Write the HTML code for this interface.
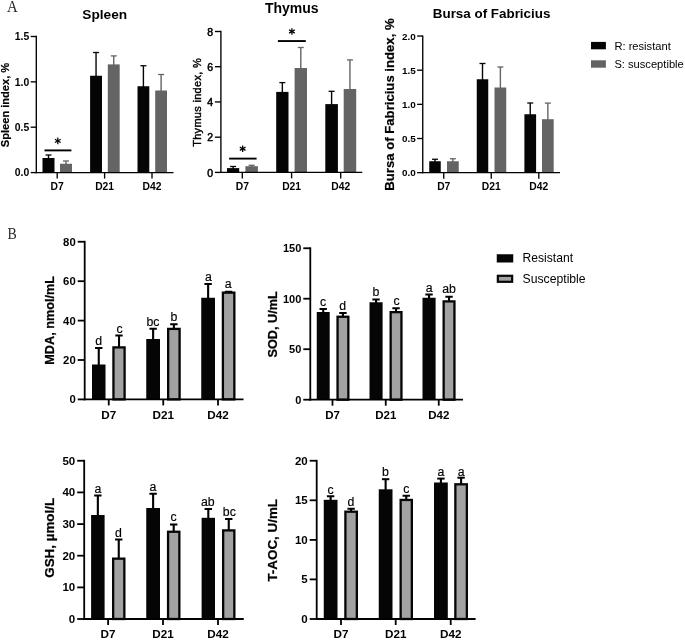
<!DOCTYPE html>
<html><head><meta charset="utf-8"><title>Figure</title>
<style>
html,body{margin:0;padding:0;background:#fff;}
body{width:685px;height:641px;overflow:hidden;font-family:"Liberation Sans",sans-serif;}
svg{display:block;will-change:transform;opacity:0.9999;}
</style></head><body>
<svg width="685" height="641" viewBox="0 0 685 641">
<rect width="685" height="641" fill="#fff"/>
<text transform="translate(7.0 11.8) scale(0.86 1)" font-family='"Liberation Serif", serif' font-size="17.3" fill="#2a2a2a">A</text>
<text transform="translate(7.4 239) scale(0.83 1)" font-family='"Liberation Serif", serif' font-size="16.8" fill="#2a2a2a">B</text>
<line x1="48.5" y1="155" x2="48.5" y2="159" stroke="#050505" stroke-width="1.4"/>
<line x1="45.5" y1="155" x2="51.5" y2="155" stroke="#050505" stroke-width="1.3"/>
<rect x="42.50" y="158.00" width="12.00" height="14.60" fill="#050505"/>
<line x1="66.0" y1="161" x2="66.0" y2="164.75" stroke="#646464" stroke-width="1.4"/>
<line x1="63.0" y1="161" x2="69.0" y2="161" stroke="#646464" stroke-width="1.3"/>
<rect x="60.00" y="163.75" width="12.00" height="8.85" fill="#646464"/>
<line x1="96.05" y1="52.5" x2="96.05" y2="76.75" stroke="#050505" stroke-width="1.4"/>
<line x1="93.05" y1="52.5" x2="99.05" y2="52.5" stroke="#050505" stroke-width="1.3"/>
<rect x="90.10" y="75.75" width="11.90" height="96.85" fill="#050505"/>
<line x1="113.75" y1="55.9" x2="113.75" y2="65.4" stroke="#646464" stroke-width="1.4"/>
<line x1="110.75" y1="55.9" x2="116.75" y2="55.9" stroke="#646464" stroke-width="1.3"/>
<rect x="107.80" y="64.40" width="11.90" height="108.20" fill="#646464"/>
<line x1="143.4" y1="65.75" x2="143.4" y2="87.25" stroke="#050505" stroke-width="1.4"/>
<line x1="140.4" y1="65.75" x2="146.4" y2="65.75" stroke="#050505" stroke-width="1.3"/>
<rect x="137.50" y="86.25" width="11.80" height="86.35" fill="#050505"/>
<line x1="161.1" y1="74.5" x2="161.1" y2="91.5" stroke="#646464" stroke-width="1.4"/>
<line x1="158.1" y1="74.5" x2="164.1" y2="74.5" stroke="#646464" stroke-width="1.3"/>
<rect x="155.20" y="90.50" width="11.80" height="82.10" fill="#646464"/>
<line x1="36.3" y1="35.825" x2="36.3" y2="173.275" stroke="#000" stroke-width="1.35"/>
<line x1="35.625" y1="172.6" x2="173.5" y2="172.6" stroke="#000" stroke-width="1.35"/>
<line x1="30.699999999999996" y1="36.5" x2="36.3" y2="36.5" stroke="#000" stroke-width="1.35"/>
<text x="29.299999999999997" y="40.2" font-family='"Liberation Sans", sans-serif' font-size="10.4" font-weight="bold" text-anchor="end" fill="#000">1.5</text>
<line x1="30.699999999999996" y1="81.85" x2="36.3" y2="81.85" stroke="#000" stroke-width="1.35"/>
<text x="29.299999999999997" y="85.55" font-family='"Liberation Sans", sans-serif' font-size="10.4" font-weight="bold" text-anchor="end" fill="#000">1.0</text>
<line x1="30.699999999999996" y1="127.2" x2="36.3" y2="127.2" stroke="#000" stroke-width="1.35"/>
<text x="29.299999999999997" y="130.9" font-family='"Liberation Sans", sans-serif' font-size="10.4" font-weight="bold" text-anchor="end" fill="#000">0.5</text>
<line x1="30.699999999999996" y1="172.6" x2="36.3" y2="172.6" stroke="#000" stroke-width="1.35"/>
<text x="29.299999999999997" y="176.29999999999998" font-family='"Liberation Sans", sans-serif' font-size="10.4" font-weight="bold" text-anchor="end" fill="#000">0.0</text>
<line x1="57.2" y1="172.6" x2="57.2" y2="178.6" stroke="#000" stroke-width="1.35"/>
<text x="57.2" y="190.2" font-family='"Liberation Sans", sans-serif' font-size="10.3" font-weight="bold" text-anchor="middle" fill="#000">D7</text>
<line x1="104.6" y1="172.6" x2="104.6" y2="178.6" stroke="#000" stroke-width="1.35"/>
<text x="104.6" y="190.2" font-family='"Liberation Sans", sans-serif' font-size="10.3" font-weight="bold" text-anchor="middle" fill="#000">D21</text>
<line x1="152" y1="172.6" x2="152" y2="178.6" stroke="#000" stroke-width="1.35"/>
<text x="152" y="190.2" font-family='"Liberation Sans", sans-serif' font-size="10.3" font-weight="bold" text-anchor="middle" fill="#000">D42</text>
<text x="104.75" y="19" font-family='"Liberation Sans", sans-serif' font-size="13.7" font-weight="bold" text-anchor="middle" fill="#000">Spleen</text>
<text x="8.8" y="105" font-family='"Liberation Sans", sans-serif' font-size="11.1" font-weight="bold" text-anchor="middle" fill="#000" transform="rotate(-90 8.8 105)" stroke="#000" stroke-width="0.2">Spleen index, %</text>
<line x1="44.5" y1="150.4" x2="71.4" y2="150.4" stroke="#000" stroke-width="1.9"/>
<g stroke="#000" stroke-width="1.25" stroke-linecap="butt"><line x1="57.8" y1="137.6" x2="57.8" y2="144.20000000000002"/><line x1="54.94" y1="139.25" x2="60.66" y2="142.55"/><line x1="54.94" y1="142.55" x2="60.66" y2="139.25"/></g>
<line x1="233.1" y1="166.5" x2="233.1" y2="169.1" stroke="#050505" stroke-width="1.4"/>
<line x1="230.1" y1="166.5" x2="236.1" y2="166.5" stroke="#050505" stroke-width="1.3"/>
<rect x="227.00" y="168.10" width="12.20" height="4.30" fill="#050505"/>
<line x1="251.64999999999998" y1="165.3" x2="251.64999999999998" y2="167.2" stroke="#646464" stroke-width="1.4"/>
<line x1="248.64999999999998" y1="165.3" x2="254.64999999999998" y2="165.3" stroke="#646464" stroke-width="1.3"/>
<rect x="245.40" y="166.20" width="12.50" height="6.20" fill="#646464"/>
<line x1="282.35" y1="82.6" x2="282.35" y2="92.9" stroke="#050505" stroke-width="1.4"/>
<line x1="279.35" y1="82.6" x2="285.35" y2="82.6" stroke="#050505" stroke-width="1.3"/>
<rect x="276.20" y="91.90" width="12.30" height="80.50" fill="#050505"/>
<line x1="300.8" y1="47.5" x2="300.8" y2="69.0" stroke="#646464" stroke-width="1.4"/>
<line x1="297.8" y1="47.5" x2="303.8" y2="47.5" stroke="#646464" stroke-width="1.3"/>
<rect x="294.60" y="68.00" width="12.40" height="104.40" fill="#646464"/>
<line x1="331.6" y1="91.3" x2="331.6" y2="105.1" stroke="#050505" stroke-width="1.4"/>
<line x1="328.6" y1="91.3" x2="334.6" y2="91.3" stroke="#050505" stroke-width="1.3"/>
<rect x="325.30" y="104.10" width="12.60" height="68.30" fill="#050505"/>
<line x1="349.95" y1="59.9" x2="349.95" y2="90.0" stroke="#646464" stroke-width="1.4"/>
<line x1="346.95" y1="59.9" x2="352.95" y2="59.9" stroke="#646464" stroke-width="1.3"/>
<rect x="343.70" y="89.00" width="12.50" height="83.40" fill="#646464"/>
<line x1="220.9" y1="30.825" x2="220.9" y2="173.07500000000002" stroke="#000" stroke-width="1.35"/>
<line x1="220.225" y1="172.4" x2="362.3" y2="172.4" stroke="#000" stroke-width="1.35"/>
<line x1="214.9" y1="31.5" x2="220.9" y2="31.5" stroke="#000" stroke-width="1.35"/>
<text x="213.2" y="35.6" font-family='"Liberation Sans", sans-serif' font-size="10.5" font-weight="normal" text-anchor="end" fill="#000" stroke="#000" stroke-width="0.5">8</text>
<line x1="214.9" y1="66.7" x2="220.9" y2="66.7" stroke="#000" stroke-width="1.35"/>
<text x="213.2" y="70.80000000000001" font-family='"Liberation Sans", sans-serif' font-size="10.5" font-weight="normal" text-anchor="end" fill="#000" stroke="#000" stroke-width="0.5">6</text>
<line x1="214.9" y1="101.95" x2="220.9" y2="101.95" stroke="#000" stroke-width="1.35"/>
<text x="213.2" y="106.05000000000001" font-family='"Liberation Sans", sans-serif' font-size="10.5" font-weight="normal" text-anchor="end" fill="#000" stroke="#000" stroke-width="0.5">4</text>
<line x1="214.9" y1="137.2" x2="220.9" y2="137.2" stroke="#000" stroke-width="1.35"/>
<text x="213.2" y="141.29999999999998" font-family='"Liberation Sans", sans-serif' font-size="10.5" font-weight="normal" text-anchor="end" fill="#000" stroke="#000" stroke-width="0.5">2</text>
<line x1="214.9" y1="172.4" x2="220.9" y2="172.4" stroke="#000" stroke-width="1.35"/>
<text x="213.2" y="176.5" font-family='"Liberation Sans", sans-serif' font-size="10.5" font-weight="normal" text-anchor="end" fill="#000" stroke="#000" stroke-width="0.5">0</text>
<line x1="242.3" y1="172.4" x2="242.3" y2="178.4" stroke="#000" stroke-width="1.35"/>
<text x="242.3" y="190.2" font-family='"Liberation Sans", sans-serif' font-size="10.3" font-weight="bold" text-anchor="middle" fill="#000">D7</text>
<line x1="291.6" y1="172.4" x2="291.6" y2="178.4" stroke="#000" stroke-width="1.35"/>
<text x="291.6" y="190.2" font-family='"Liberation Sans", sans-serif' font-size="10.3" font-weight="bold" text-anchor="middle" fill="#000">D21</text>
<line x1="340.7" y1="172.4" x2="340.7" y2="178.4" stroke="#000" stroke-width="1.35"/>
<text x="340.7" y="190.2" font-family='"Liberation Sans", sans-serif' font-size="10.3" font-weight="bold" text-anchor="middle" fill="#000">D42</text>
<text x="291.8" y="13.3" font-family='"Liberation Sans", sans-serif' font-size="14" font-weight="bold" text-anchor="middle" fill="#000">Thymus</text>
<text x="200.9" y="102.4" font-family='"Liberation Sans", sans-serif' font-size="11" font-weight="normal" text-anchor="middle" fill="#000" transform="rotate(-90 200.9 102.4)" stroke="#000" stroke-width="0.4" letter-spacing="0.3">Thymus index, %</text>
<line x1="229.1" y1="158.6" x2="256.6" y2="158.6" stroke="#000" stroke-width="1.9"/>
<g stroke="#000" stroke-width="1.25" stroke-linecap="butt"><line x1="242.65" y1="145.45" x2="242.65" y2="152.05"/><line x1="239.79" y1="147.10" x2="245.51" y2="150.40"/><line x1="239.79" y1="150.40" x2="245.51" y2="147.10"/></g>
<line x1="277.9" y1="41.05" x2="305.8" y2="41.05" stroke="#000" stroke-width="1.9"/>
<g stroke="#000" stroke-width="1.25" stroke-linecap="butt"><line x1="291.9" y1="28.2" x2="291.9" y2="34.8"/><line x1="289.04" y1="29.85" x2="294.76" y2="33.15"/><line x1="289.04" y1="33.15" x2="294.76" y2="29.85"/></g>
<line x1="435.0" y1="159.25" x2="435.0" y2="162.25" stroke="#050505" stroke-width="1.4"/>
<line x1="432.0" y1="159.25" x2="438.0" y2="159.25" stroke="#050505" stroke-width="1.3"/>
<rect x="429.25" y="161.25" width="11.50" height="11.40" fill="#050505"/>
<line x1="452.875" y1="158.75" x2="452.875" y2="162.25" stroke="#646464" stroke-width="1.4"/>
<line x1="449.875" y1="158.75" x2="455.875" y2="158.75" stroke="#646464" stroke-width="1.3"/>
<rect x="447.00" y="161.25" width="11.75" height="11.40" fill="#646464"/>
<line x1="482.5" y1="63.5" x2="482.5" y2="80.25" stroke="#050505" stroke-width="1.4"/>
<line x1="479.5" y1="63.5" x2="485.5" y2="63.5" stroke="#050505" stroke-width="1.3"/>
<rect x="476.75" y="79.25" width="11.50" height="93.40" fill="#050505"/>
<line x1="500.375" y1="67" x2="500.375" y2="88.5" stroke="#646464" stroke-width="1.4"/>
<line x1="497.375" y1="67" x2="503.375" y2="67" stroke="#646464" stroke-width="1.3"/>
<rect x="494.50" y="87.50" width="11.75" height="85.15" fill="#646464"/>
<line x1="530.25" y1="103.0" x2="530.25" y2="115.25" stroke="#050505" stroke-width="1.4"/>
<line x1="527.25" y1="103.0" x2="533.25" y2="103.0" stroke="#050505" stroke-width="1.3"/>
<rect x="524.40" y="114.25" width="11.70" height="58.40" fill="#050505"/>
<line x1="547.85" y1="103.1" x2="547.85" y2="120.2" stroke="#646464" stroke-width="1.4"/>
<line x1="544.85" y1="103.1" x2="550.85" y2="103.1" stroke="#646464" stroke-width="1.3"/>
<rect x="542.00" y="119.20" width="11.70" height="53.45" fill="#646464"/>
<line x1="422.75" y1="35.375" x2="422.75" y2="173.32500000000002" stroke="#000" stroke-width="1.35"/>
<line x1="422.075" y1="172.65" x2="560" y2="172.65" stroke="#000" stroke-width="1.35"/>
<line x1="417.15" y1="36.05" x2="422.75" y2="36.05" stroke="#000" stroke-width="1.35"/>
<text x="415.75" y="39.75" font-family='"Liberation Sans", sans-serif' font-size="9.9" font-weight="bold" text-anchor="end" fill="#000">2.0</text>
<line x1="417.15" y1="70.2" x2="422.75" y2="70.2" stroke="#000" stroke-width="1.35"/>
<text x="415.75" y="73.9" font-family='"Liberation Sans", sans-serif' font-size="9.9" font-weight="bold" text-anchor="end" fill="#000">1.5</text>
<line x1="417.15" y1="104.35" x2="422.75" y2="104.35" stroke="#000" stroke-width="1.35"/>
<text x="415.75" y="108.05" font-family='"Liberation Sans", sans-serif' font-size="9.9" font-weight="bold" text-anchor="end" fill="#000">1.0</text>
<line x1="417.15" y1="138.5" x2="422.75" y2="138.5" stroke="#000" stroke-width="1.35"/>
<text x="415.75" y="142.2" font-family='"Liberation Sans", sans-serif' font-size="9.9" font-weight="bold" text-anchor="end" fill="#000">0.5</text>
<line x1="417.15" y1="172.65" x2="422.75" y2="172.65" stroke="#000" stroke-width="1.35"/>
<text x="415.75" y="176.35" font-family='"Liberation Sans", sans-serif' font-size="9.9" font-weight="bold" text-anchor="end" fill="#000">0.0</text>
<line x1="443.75" y1="172.65" x2="443.75" y2="178.65" stroke="#000" stroke-width="1.35"/>
<text x="443.75" y="190.2" font-family='"Liberation Sans", sans-serif' font-size="10.3" font-weight="bold" text-anchor="middle" fill="#000">D7</text>
<line x1="491.25" y1="172.65" x2="491.25" y2="178.65" stroke="#000" stroke-width="1.35"/>
<text x="491.25" y="190.2" font-family='"Liberation Sans", sans-serif' font-size="10.3" font-weight="bold" text-anchor="middle" fill="#000">D21</text>
<line x1="538.8" y1="172.65" x2="538.8" y2="178.65" stroke="#000" stroke-width="1.35"/>
<text x="538.8" y="190.2" font-family='"Liberation Sans", sans-serif' font-size="10.3" font-weight="bold" text-anchor="middle" fill="#000">D42</text>
<text x="491.6" y="18.4" font-family='"Liberation Sans", sans-serif' font-size="13.4" font-weight="bold" text-anchor="middle" fill="#000">Bursa of Fabricius</text>
<text x="393.7" y="104.5" font-family='"Liberation Sans", sans-serif' font-size="13.15" font-weight="bold" text-anchor="middle" fill="#000" transform="rotate(-90 393.7 104.5)" stroke="#000" stroke-width="0.2">Bursa of Fabricius index, %</text>
<rect x="591.00" y="41.90" width="14.90" height="7.40" fill="#050505"/>
<rect x="591.00" y="60.30" width="14.90" height="7.40" fill="#646464"/>
<text x="614.4" y="49.5" font-family='"Liberation Sans", sans-serif' font-size="11.15" font-weight="normal" text-anchor="start" fill="#000">R: resistant</text>
<text x="614.4" y="68" font-family='"Liberation Sans", sans-serif' font-size="11.15" font-weight="normal" text-anchor="start" fill="#000">S: susceptible</text>
<line x1="98.75" y1="348" x2="98.75" y2="365.5" stroke="#000" stroke-width="2.1"/>
<line x1="95.05" y1="348" x2="102.45" y2="348" stroke="#000" stroke-width="2.0"/>
<rect x="92.00" y="364.50" width="13.50" height="34.90" fill="#050505"/>
<text x="98.6" y="345" font-family='"Liberation Sans", sans-serif' font-size="12.3" font-weight="normal" text-anchor="middle" fill="#000" stroke="#000" stroke-width="0.15">d</text>
<line x1="119.025" y1="335.5" x2="119.025" y2="347.25" stroke="#000" stroke-width="2.1"/>
<line x1="115.325" y1="335.5" x2="122.72500000000001" y2="335.5" stroke="#000" stroke-width="2.0"/>
<rect x="113.45" y="347.40" width="11.15" height="52.00" fill="#a2a2a2" stroke="#050505" stroke-width="2.3"/>
<text x="119.6" y="332.5" font-family='"Liberation Sans", sans-serif' font-size="12.3" font-weight="normal" text-anchor="middle" fill="#000" stroke="#000" stroke-width="0.15">c</text>
<line x1="153.125" y1="328.75" x2="153.125" y2="340.0" stroke="#000" stroke-width="2.1"/>
<line x1="149.425" y1="328.75" x2="156.825" y2="328.75" stroke="#000" stroke-width="2.0"/>
<rect x="146.25" y="339.00" width="13.75" height="60.40" fill="#050505"/>
<text x="153" y="325.5" font-family='"Liberation Sans", sans-serif' font-size="12.3" font-weight="normal" text-anchor="middle" fill="#000" stroke="#000" stroke-width="0.15">bc</text>
<line x1="173.875" y1="324.25" x2="173.875" y2="328.75" stroke="#000" stroke-width="2.1"/>
<line x1="170.175" y1="324.25" x2="177.575" y2="324.25" stroke="#000" stroke-width="2.0"/>
<rect x="168.15" y="328.90" width="11.45" height="70.50" fill="#a2a2a2" stroke="#050505" stroke-width="2.3"/>
<text x="174" y="321.25" font-family='"Liberation Sans", sans-serif' font-size="12.3" font-weight="normal" text-anchor="middle" fill="#000" stroke="#000" stroke-width="0.15">b</text>
<line x1="208.125" y1="284" x2="208.125" y2="298.75" stroke="#000" stroke-width="2.1"/>
<line x1="204.425" y1="284" x2="211.825" y2="284" stroke="#000" stroke-width="2.0"/>
<rect x="201.25" y="297.75" width="13.75" height="101.65" fill="#050505"/>
<text x="208.5" y="280.5" font-family='"Liberation Sans", sans-serif' font-size="12.3" font-weight="normal" text-anchor="middle" fill="#000" stroke="#000" stroke-width="0.15">a</text>
<line x1="228.625" y1="291.75" x2="228.625" y2="292.5" stroke="#000" stroke-width="2.1"/>
<line x1="224.925" y1="291.75" x2="232.325" y2="291.75" stroke="#000" stroke-width="2.0"/>
<rect x="222.90" y="292.65" width="11.45" height="106.75" fill="#a2a2a2" stroke="#050505" stroke-width="2.3"/>
<text x="228.25" y="288.25" font-family='"Liberation Sans", sans-serif' font-size="12.3" font-weight="normal" text-anchor="middle" fill="#000" stroke="#000" stroke-width="0.15">a</text>
<line x1="84.7" y1="240.85" x2="84.7" y2="400.29999999999995" stroke="#000" stroke-width="1.8"/>
<line x1="83.8" y1="399.4" x2="243.5" y2="399.4" stroke="#000" stroke-width="1.8"/>
<line x1="77.7" y1="241.75" x2="84.7" y2="241.75" stroke="#000" stroke-width="1.8"/>
<text x="75.7" y="245.75" font-family='"Liberation Sans", sans-serif' font-size="11.3" font-weight="bold" text-anchor="end" fill="#000">80</text>
<line x1="77.7" y1="281.2" x2="84.7" y2="281.2" stroke="#000" stroke-width="1.8"/>
<text x="75.7" y="285.2" font-family='"Liberation Sans", sans-serif' font-size="11.3" font-weight="bold" text-anchor="end" fill="#000">60</text>
<line x1="77.7" y1="320.6" x2="84.7" y2="320.6" stroke="#000" stroke-width="1.8"/>
<text x="75.7" y="324.6" font-family='"Liberation Sans", sans-serif' font-size="11.3" font-weight="bold" text-anchor="end" fill="#000">40</text>
<line x1="77.7" y1="360" x2="84.7" y2="360" stroke="#000" stroke-width="1.8"/>
<text x="75.7" y="364.0" font-family='"Liberation Sans", sans-serif' font-size="11.3" font-weight="bold" text-anchor="end" fill="#000">20</text>
<line x1="77.7" y1="399.4" x2="84.7" y2="399.4" stroke="#000" stroke-width="1.8"/>
<text x="75.7" y="403.4" font-family='"Liberation Sans", sans-serif' font-size="11.3" font-weight="bold" text-anchor="end" fill="#000">0</text>
<line x1="108.75" y1="399.4" x2="108.75" y2="405.4" stroke="#000" stroke-width="1.8"/>
<text x="108.75" y="418.5" font-family='"Liberation Sans", sans-serif' font-size="11.7" font-weight="bold" text-anchor="middle" fill="#000">D7</text>
<line x1="163.25" y1="399.4" x2="163.25" y2="405.4" stroke="#000" stroke-width="1.8"/>
<text x="163.25" y="418.5" font-family='"Liberation Sans", sans-serif' font-size="11.7" font-weight="bold" text-anchor="middle" fill="#000">D21</text>
<line x1="218" y1="399.4" x2="218" y2="405.4" stroke="#000" stroke-width="1.8"/>
<text x="218" y="418.5" font-family='"Liberation Sans", sans-serif' font-size="11.7" font-weight="bold" text-anchor="middle" fill="#000">D42</text>
<text x="54" y="320.3" font-family='"Liberation Sans", sans-serif' font-size="12.7" font-weight="bold" text-anchor="middle" fill="#000" transform="rotate(-90 54 320.3)" stroke="#000" stroke-width="0.25">MDA, nmol/mL</text>
<line x1="323.225" y1="309" x2="323.225" y2="313.0" stroke="#000" stroke-width="2.1"/>
<line x1="319.52500000000003" y1="309" x2="326.925" y2="309" stroke="#000" stroke-width="2.0"/>
<rect x="316.75" y="312.00" width="12.95" height="87.70" fill="#050505"/>
<text x="323.2" y="305.7" font-family='"Liberation Sans", sans-serif' font-size="12.3" font-weight="normal" text-anchor="middle" fill="#000" stroke="#000" stroke-width="0.15">c</text>
<line x1="342.95" y1="313" x2="342.95" y2="316.6" stroke="#000" stroke-width="2.1"/>
<line x1="339.25" y1="313" x2="346.65" y2="313" stroke="#000" stroke-width="2.0"/>
<rect x="337.55" y="316.75" width="10.80" height="82.95" fill="#a2a2a2" stroke="#050505" stroke-width="2.3"/>
<text x="342.6" y="310" font-family='"Liberation Sans", sans-serif' font-size="12.3" font-weight="normal" text-anchor="middle" fill="#000" stroke="#000" stroke-width="0.15">d</text>
<line x1="376.05" y1="299.5" x2="376.05" y2="303.25" stroke="#000" stroke-width="2.1"/>
<line x1="372.35" y1="299.5" x2="379.75" y2="299.5" stroke="#000" stroke-width="2.0"/>
<rect x="369.50" y="302.25" width="13.10" height="97.45" fill="#050505"/>
<text x="375.9" y="296.25" font-family='"Liberation Sans", sans-serif' font-size="12.3" font-weight="normal" text-anchor="middle" fill="#000" stroke="#000" stroke-width="0.15">b</text>
<line x1="396.05" y1="308.25" x2="396.05" y2="312.0" stroke="#000" stroke-width="2.1"/>
<line x1="392.35" y1="308.25" x2="399.75" y2="308.25" stroke="#000" stroke-width="2.0"/>
<rect x="390.65" y="312.15" width="10.80" height="87.55" fill="#a2a2a2" stroke="#050505" stroke-width="2.3"/>
<text x="396.5" y="305" font-family='"Liberation Sans", sans-serif' font-size="12.3" font-weight="normal" text-anchor="middle" fill="#000" stroke="#000" stroke-width="0.15">c</text>
<line x1="429.05" y1="294.5" x2="429.05" y2="298.75" stroke="#000" stroke-width="2.1"/>
<line x1="425.35" y1="294.5" x2="432.75" y2="294.5" stroke="#000" stroke-width="2.0"/>
<rect x="422.50" y="297.75" width="13.10" height="101.95" fill="#050505"/>
<text x="429.2" y="291.75" font-family='"Liberation Sans", sans-serif' font-size="12.3" font-weight="normal" text-anchor="middle" fill="#000" stroke="#000" stroke-width="0.15">a</text>
<line x1="449.05" y1="296.75" x2="449.05" y2="301.25" stroke="#000" stroke-width="2.1"/>
<line x1="445.35" y1="296.75" x2="452.75" y2="296.75" stroke="#000" stroke-width="2.0"/>
<rect x="443.65" y="301.40" width="10.80" height="98.30" fill="#a2a2a2" stroke="#050505" stroke-width="2.3"/>
<text x="449" y="292.5" font-family='"Liberation Sans", sans-serif' font-size="12.3" font-weight="normal" text-anchor="middle" fill="#000" stroke="#000" stroke-width="0.15">ab</text>
<line x1="310.3" y1="247.35" x2="310.3" y2="400.59999999999997" stroke="#000" stroke-width="1.8"/>
<line x1="309.40000000000003" y1="399.7" x2="463" y2="399.7" stroke="#000" stroke-width="1.8"/>
<line x1="303.3" y1="248.25" x2="310.3" y2="248.25" stroke="#000" stroke-width="1.8"/>
<text x="301.3" y="252.25" font-family='"Liberation Sans", sans-serif' font-size="11" font-weight="bold" text-anchor="end" fill="#000">150</text>
<line x1="303.3" y1="298.7" x2="310.3" y2="298.7" stroke="#000" stroke-width="1.8"/>
<text x="301.3" y="302.7" font-family='"Liberation Sans", sans-serif' font-size="11" font-weight="bold" text-anchor="end" fill="#000">100</text>
<line x1="303.3" y1="349.2" x2="310.3" y2="349.2" stroke="#000" stroke-width="1.8"/>
<text x="301.3" y="353.2" font-family='"Liberation Sans", sans-serif' font-size="11" font-weight="bold" text-anchor="end" fill="#000">50</text>
<line x1="303.3" y1="399.7" x2="310.3" y2="399.7" stroke="#000" stroke-width="1.8"/>
<text x="301.3" y="403.7" font-family='"Liberation Sans", sans-serif' font-size="11" font-weight="bold" text-anchor="end" fill="#000">0</text>
<line x1="332.5" y1="399.7" x2="332.5" y2="405.7" stroke="#000" stroke-width="1.8"/>
<text x="332.5" y="418.8" font-family='"Liberation Sans", sans-serif' font-size="11.5" font-weight="bold" text-anchor="middle" fill="#000">D7</text>
<line x1="385.75" y1="399.7" x2="385.75" y2="405.7" stroke="#000" stroke-width="1.8"/>
<text x="385.75" y="418.8" font-family='"Liberation Sans", sans-serif' font-size="11.5" font-weight="bold" text-anchor="middle" fill="#000">D21</text>
<line x1="438.75" y1="399.7" x2="438.75" y2="405.7" stroke="#000" stroke-width="1.8"/>
<text x="438.75" y="418.8" font-family='"Liberation Sans", sans-serif' font-size="11.5" font-weight="bold" text-anchor="middle" fill="#000">D42</text>
<text x="277.5" y="324.4" font-family='"Liberation Sans", sans-serif' font-size="12.7" font-weight="bold" text-anchor="middle" fill="#000" transform="rotate(-90 277.5 324.4)" stroke="#000" stroke-width="0.25">SOD, U/mL</text>
<line x1="97.85" y1="495.5" x2="97.85" y2="516" stroke="#000" stroke-width="2.1"/>
<line x1="94.14999999999999" y1="495.5" x2="101.55" y2="495.5" stroke="#000" stroke-width="2.0"/>
<rect x="91.10" y="515.00" width="13.50" height="104.00" fill="#050505"/>
<text x="97.9" y="492.5" font-family='"Liberation Sans", sans-serif' font-size="12.3" font-weight="normal" text-anchor="middle" fill="#000" stroke="#000" stroke-width="0.15">a</text>
<line x1="118.75" y1="539.5" x2="118.75" y2="558.5" stroke="#000" stroke-width="2.1"/>
<line x1="115.05" y1="539.5" x2="122.45" y2="539.5" stroke="#000" stroke-width="2.0"/>
<rect x="113.15" y="558.65" width="11.20" height="60.35" fill="#a2a2a2" stroke="#050505" stroke-width="2.3"/>
<text x="118.5" y="536.75" font-family='"Liberation Sans", sans-serif' font-size="12.3" font-weight="normal" text-anchor="middle" fill="#000" stroke="#000" stroke-width="0.15">d</text>
<line x1="153.125" y1="493.75" x2="153.125" y2="509" stroke="#000" stroke-width="2.1"/>
<line x1="149.425" y1="493.75" x2="156.825" y2="493.75" stroke="#000" stroke-width="2.0"/>
<rect x="146.25" y="508.00" width="13.75" height="111.00" fill="#050505"/>
<text x="152.8" y="491.25" font-family='"Liberation Sans", sans-serif' font-size="12.3" font-weight="normal" text-anchor="middle" fill="#000" stroke="#000" stroke-width="0.15">a</text>
<line x1="173.7" y1="524.5" x2="173.7" y2="531.6" stroke="#000" stroke-width="2.1"/>
<line x1="170.0" y1="524.5" x2="177.39999999999998" y2="524.5" stroke="#000" stroke-width="2.0"/>
<rect x="168.05" y="531.75" width="11.30" height="87.25" fill="#a2a2a2" stroke="#050505" stroke-width="2.3"/>
<text x="173.5" y="521.25" font-family='"Liberation Sans", sans-serif' font-size="12.3" font-weight="normal" text-anchor="middle" fill="#000" stroke="#000" stroke-width="0.15">c</text>
<line x1="208.3" y1="509" x2="208.3" y2="518.8" stroke="#000" stroke-width="2.1"/>
<line x1="204.60000000000002" y1="509" x2="212.0" y2="509" stroke="#000" stroke-width="2.0"/>
<rect x="201.60" y="517.80" width="13.40" height="101.20" fill="#050505"/>
<text x="207.8" y="506" font-family='"Liberation Sans", sans-serif' font-size="12.3" font-weight="normal" text-anchor="middle" fill="#000" stroke="#000" stroke-width="0.15">ab</text>
<line x1="228.75" y1="519" x2="228.75" y2="530.25" stroke="#000" stroke-width="2.1"/>
<line x1="225.05" y1="519" x2="232.45" y2="519" stroke="#000" stroke-width="2.0"/>
<rect x="223.15" y="530.40" width="11.20" height="88.60" fill="#a2a2a2" stroke="#050505" stroke-width="2.3"/>
<text x="229.3" y="516" font-family='"Liberation Sans", sans-serif' font-size="12.3" font-weight="normal" text-anchor="middle" fill="#000" stroke="#000" stroke-width="0.15">bc</text>
<line x1="84.2" y1="459.85" x2="84.2" y2="619.9" stroke="#000" stroke-width="1.8"/>
<line x1="83.3" y1="619" x2="243.75" y2="619" stroke="#000" stroke-width="1.8"/>
<line x1="77.2" y1="460.75" x2="84.2" y2="460.75" stroke="#000" stroke-width="1.8"/>
<text x="75.2" y="464.75" font-family='"Liberation Sans", sans-serif' font-size="11.5" font-weight="bold" text-anchor="end" fill="#000">50</text>
<line x1="77.2" y1="492.4" x2="84.2" y2="492.4" stroke="#000" stroke-width="1.8"/>
<text x="75.2" y="496.4" font-family='"Liberation Sans", sans-serif' font-size="11.5" font-weight="bold" text-anchor="end" fill="#000">40</text>
<line x1="77.2" y1="524.1" x2="84.2" y2="524.1" stroke="#000" stroke-width="1.8"/>
<text x="75.2" y="528.1" font-family='"Liberation Sans", sans-serif' font-size="11.5" font-weight="bold" text-anchor="end" fill="#000">30</text>
<line x1="77.2" y1="555.7" x2="84.2" y2="555.7" stroke="#000" stroke-width="1.8"/>
<text x="75.2" y="559.7" font-family='"Liberation Sans", sans-serif' font-size="11.5" font-weight="bold" text-anchor="end" fill="#000">20</text>
<line x1="77.2" y1="587.4" x2="84.2" y2="587.4" stroke="#000" stroke-width="1.8"/>
<text x="75.2" y="591.4" font-family='"Liberation Sans", sans-serif' font-size="11.5" font-weight="bold" text-anchor="end" fill="#000">10</text>
<line x1="77.2" y1="619" x2="84.2" y2="619" stroke="#000" stroke-width="1.8"/>
<text x="75.2" y="623.0" font-family='"Liberation Sans", sans-serif' font-size="11.5" font-weight="bold" text-anchor="end" fill="#000">0</text>
<line x1="108.1" y1="619" x2="108.1" y2="625" stroke="#000" stroke-width="1.8"/>
<text x="108.1" y="638.2" font-family='"Liberation Sans", sans-serif' font-size="11.7" font-weight="bold" text-anchor="middle" fill="#000">D7</text>
<line x1="163" y1="619" x2="163" y2="625" stroke="#000" stroke-width="1.8"/>
<text x="163" y="638.2" font-family='"Liberation Sans", sans-serif' font-size="11.7" font-weight="bold" text-anchor="middle" fill="#000">D21</text>
<line x1="218" y1="619" x2="218" y2="625" stroke="#000" stroke-width="1.8"/>
<text x="218" y="638.2" font-family='"Liberation Sans", sans-serif' font-size="11.7" font-weight="bold" text-anchor="middle" fill="#000">D42</text>
<text x="53.6" y="537.8" font-family='"Liberation Sans", sans-serif' font-size="13.4" font-weight="bold" text-anchor="middle" fill="#000" transform="rotate(-90 53.6 537.8)" stroke="#000" stroke-width="0.25">GSH, µmol/L</text>
<line x1="330.625" y1="496.25" x2="330.625" y2="500.8" stroke="#000" stroke-width="2.1"/>
<line x1="326.925" y1="496.25" x2="334.325" y2="496.25" stroke="#000" stroke-width="2.0"/>
<rect x="323.75" y="499.80" width="13.75" height="119.20" fill="#050505"/>
<text x="330.5" y="493.9" font-family='"Liberation Sans", sans-serif' font-size="12.3" font-weight="normal" text-anchor="middle" fill="#000" stroke="#000" stroke-width="0.15">c</text>
<line x1="351.125" y1="508.75" x2="351.125" y2="511.55" stroke="#000" stroke-width="2.1"/>
<line x1="347.425" y1="508.75" x2="354.825" y2="508.75" stroke="#000" stroke-width="2.0"/>
<rect x="345.40" y="511.70" width="11.45" height="107.30" fill="#a2a2a2" stroke="#050505" stroke-width="2.3"/>
<text x="351" y="505.75" font-family='"Liberation Sans", sans-serif' font-size="12.3" font-weight="normal" text-anchor="middle" fill="#000" stroke="#000" stroke-width="0.15">d</text>
<line x1="385.625" y1="479.2" x2="385.625" y2="490.3" stroke="#000" stroke-width="2.1"/>
<line x1="381.925" y1="479.2" x2="389.325" y2="479.2" stroke="#000" stroke-width="2.0"/>
<rect x="378.75" y="489.30" width="13.75" height="129.70" fill="#050505"/>
<text x="385.5" y="476" font-family='"Liberation Sans", sans-serif' font-size="12.3" font-weight="normal" text-anchor="middle" fill="#000" stroke="#000" stroke-width="0.15">b</text>
<line x1="406.25" y1="495.75" x2="406.25" y2="499.8" stroke="#000" stroke-width="2.1"/>
<line x1="402.55" y1="495.75" x2="409.95" y2="495.75" stroke="#000" stroke-width="2.0"/>
<rect x="400.65" y="499.95" width="11.20" height="119.05" fill="#a2a2a2" stroke="#050505" stroke-width="2.3"/>
<text x="406.25" y="492.5" font-family='"Liberation Sans", sans-serif' font-size="12.3" font-weight="normal" text-anchor="middle" fill="#000" stroke="#000" stroke-width="0.15">c</text>
<line x1="440.9" y1="478.6" x2="440.9" y2="483.5" stroke="#000" stroke-width="2.1"/>
<line x1="437.2" y1="478.6" x2="444.59999999999997" y2="478.6" stroke="#000" stroke-width="2.0"/>
<rect x="434.00" y="482.50" width="13.80" height="136.50" fill="#050505"/>
<text x="440.8" y="475.6" font-family='"Liberation Sans", sans-serif' font-size="12.3" font-weight="normal" text-anchor="middle" fill="#000" stroke="#000" stroke-width="0.15">a</text>
<line x1="461.1" y1="477.7" x2="461.1" y2="484.15000000000003" stroke="#000" stroke-width="2.1"/>
<line x1="457.40000000000003" y1="477.7" x2="464.8" y2="477.7" stroke="#000" stroke-width="2.0"/>
<rect x="455.35" y="484.30" width="11.50" height="134.70" fill="#a2a2a2" stroke="#050505" stroke-width="2.3"/>
<text x="461.25" y="475.6" font-family='"Liberation Sans", sans-serif' font-size="12.3" font-weight="normal" text-anchor="middle" fill="#000" stroke="#000" stroke-width="0.15">a</text>
<line x1="316.7" y1="459.85" x2="316.7" y2="619.9" stroke="#000" stroke-width="1.8"/>
<line x1="315.8" y1="619" x2="475.6" y2="619" stroke="#000" stroke-width="1.8"/>
<line x1="309.7" y1="460.75" x2="316.7" y2="460.75" stroke="#000" stroke-width="1.8"/>
<text x="307.7" y="464.75" font-family='"Liberation Sans", sans-serif' font-size="11.5" font-weight="bold" text-anchor="end" fill="#000">20</text>
<line x1="309.7" y1="500.3" x2="316.7" y2="500.3" stroke="#000" stroke-width="1.8"/>
<text x="307.7" y="504.3" font-family='"Liberation Sans", sans-serif' font-size="11.5" font-weight="bold" text-anchor="end" fill="#000">15</text>
<line x1="309.7" y1="539.9" x2="316.7" y2="539.9" stroke="#000" stroke-width="1.8"/>
<text x="307.7" y="543.9" font-family='"Liberation Sans", sans-serif' font-size="11.5" font-weight="bold" text-anchor="end" fill="#000">10</text>
<line x1="309.7" y1="579.4" x2="316.7" y2="579.4" stroke="#000" stroke-width="1.8"/>
<text x="307.7" y="583.4" font-family='"Liberation Sans", sans-serif' font-size="11.5" font-weight="bold" text-anchor="end" fill="#000">5</text>
<line x1="309.7" y1="619" x2="316.7" y2="619" stroke="#000" stroke-width="1.8"/>
<text x="307.7" y="623.0" font-family='"Liberation Sans", sans-serif' font-size="11.5" font-weight="bold" text-anchor="end" fill="#000">0</text>
<line x1="341" y1="619" x2="341" y2="625" stroke="#000" stroke-width="1.8"/>
<text x="341" y="638.2" font-family='"Liberation Sans", sans-serif' font-size="11.7" font-weight="bold" text-anchor="middle" fill="#000">D7</text>
<line x1="395.7" y1="619" x2="395.7" y2="625" stroke="#000" stroke-width="1.8"/>
<text x="395.7" y="638.2" font-family='"Liberation Sans", sans-serif' font-size="11.7" font-weight="bold" text-anchor="middle" fill="#000">D21</text>
<line x1="450.7" y1="619" x2="450.7" y2="625" stroke="#000" stroke-width="1.8"/>
<text x="450.7" y="638.2" font-family='"Liberation Sans", sans-serif' font-size="11.7" font-weight="bold" text-anchor="middle" fill="#000">D42</text>
<text x="276.6" y="540.3" font-family='"Liberation Sans", sans-serif' font-size="13.4" font-weight="bold" text-anchor="middle" fill="#000" transform="rotate(-90 276.6 540.3)" stroke="#000" stroke-width="0.25">T-AOC, U/mL</text>
<rect x="496.75" y="254.25" width="16.50" height="8.25" fill="#050505"/>
<rect x="497.85" y="275.80" width="14.30" height="6.00" fill="#a2a2a2" stroke="#050505" stroke-width="2.2"/>
<text x="522.6" y="262.3" font-family='"Liberation Sans", sans-serif' font-size="12.1" font-weight="normal" text-anchor="start" fill="#000">Resistant</text>
<text x="522.6" y="283.1" font-family='"Liberation Sans", sans-serif' font-size="12.2" font-weight="normal" text-anchor="start" fill="#000">Susceptible</text>
</svg>
</body></html>
